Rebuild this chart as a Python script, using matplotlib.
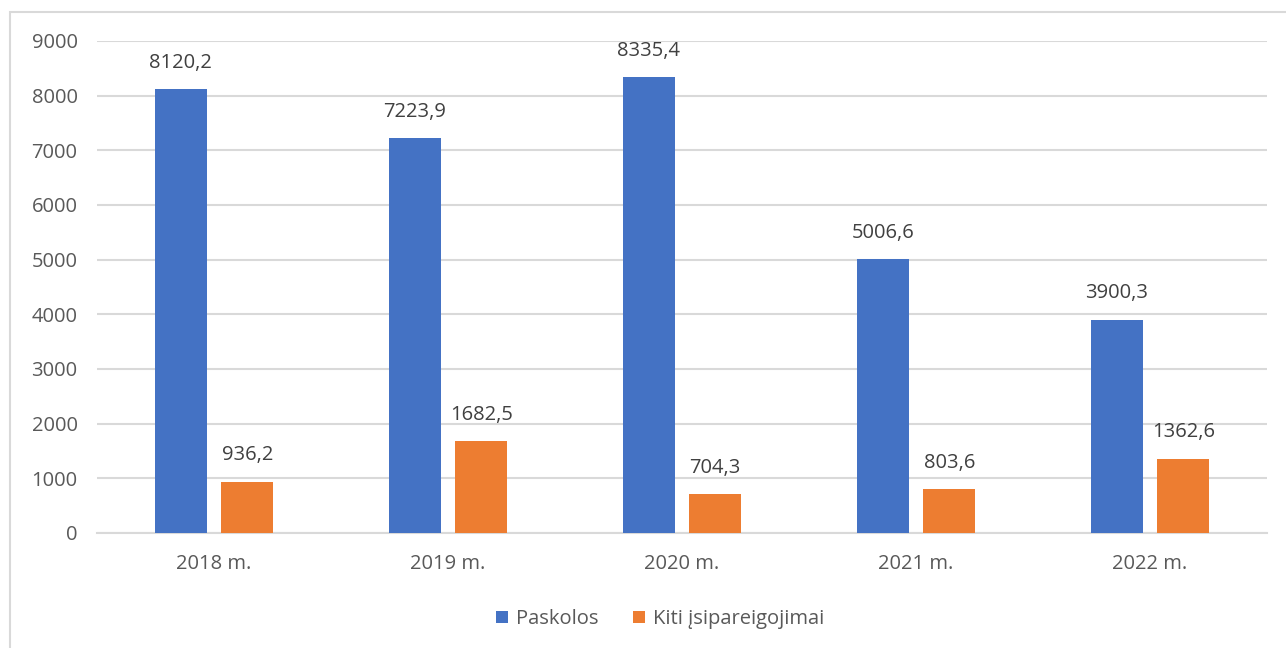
import numpy as np
import matplotlib.pyplot as plt
from matplotlib.patches import Rectangle

years = ["2018 m.", "2019 m.", "2020 m.", "2021 m.", "2022 m."]
paskolos = [8120.2, 7223.9, 8335.4, 5006.6, 3900.3]
kiti = [936.2, 1682.5, 704.3, 803.6, 1362.6]
series_names = ["Paskolos", "Kiti įsipareigojimai"]

blue = "#4472C4"
orange = "#ED7D31"
txt = "#595959"

plt.rcParams['font.family'] = ['Open Sans', 'DejaVu Sans']
fs = 14.5

fig = plt.figure(figsize=(12.86, 6.48), dpi=100)
# chart frame
fig.patches.append(Rectangle((10/1286, -0.01), 1.02, 1 - 12/648 + 0.01,
                             transform=fig.transFigure, fill=False,
                             edgecolor="#d9d9d9", linewidth=1.5))

ax = fig.add_axes([97/1286, 1 - 533/648, 1170/1286, 492/648])

x = np.arange(len(years))
w = 0.222
off = 0.142
b1 = ax.bar(x - off, paskolos, w, color=blue, label=series_names[0], zorder=3)
b2 = ax.bar(x + off, kiti, w, color=orange, label=series_names[1], zorder=3)

for bars, vals in [(b1, paskolos), (b2, kiti)]:
    for r, v in zip(bars, vals):
        ax.text(r.get_x() + r.get_width()/2, v + 300, f"{v:.1f}".replace(".", ","),
                ha="center", va="bottom", fontsize=fs, color="#404040")

ax.set_xlim(-0.5, 4.5)
ax.set_ylim(0, 9000)
ax.set_yticks(range(0, 9001, 1000))
ax.set_xticks(x)
ax.set_xticklabels(years)
ax.tick_params(axis="both", length=0, labelsize=fs, labelcolor=txt)
ax.tick_params(axis="x", pad=15)
ax.tick_params(axis="y", pad=14)
ax.grid(axis="y", color="#d9d9d9", linewidth=1.5, zorder=0)
for s in ["top", "right", "left"]:
    ax.spines[s].set_visible(False)
ax.spines["bottom"].set_color("#d9d9d9")
ax.spines["bottom"].set_linewidth(1.5)

ax.legend(loc="center", bbox_to_anchor=(0.481, -0.175), ncol=2, frameon=False,
          fontsize=fs, labelcolor=txt, handlelength=0.6, handleheight=0.6,
          handletextpad=0.4, columnspacing=1.7)

fig.savefig("out.png", dpi=100)
